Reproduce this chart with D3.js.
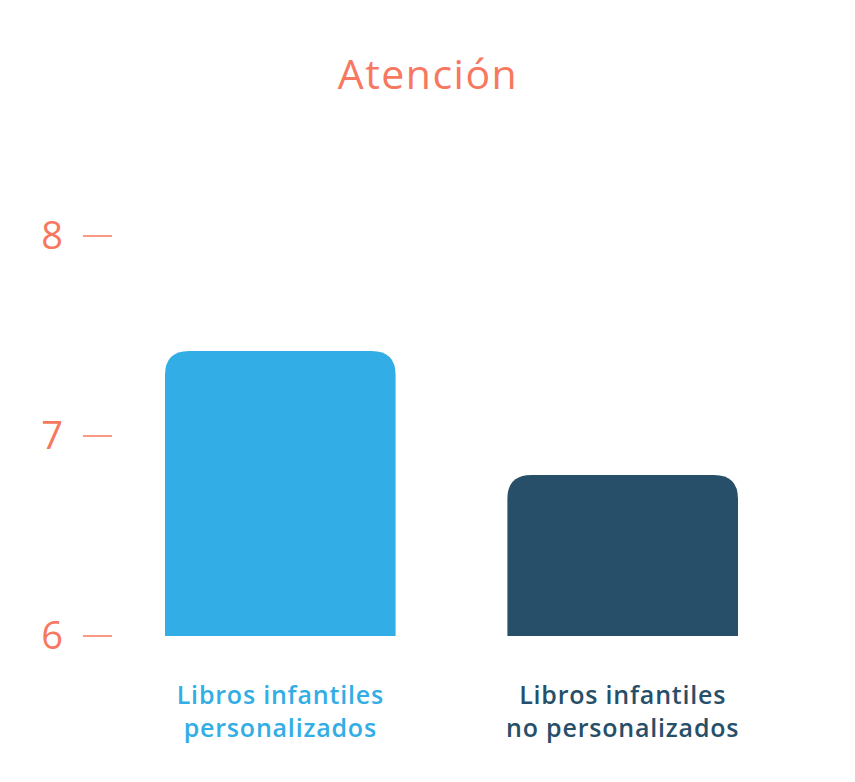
<!DOCTYPE html>
<html>
<head>
<meta charset="utf-8">
<script src="https://cdn.jsdelivr.net/npm/d3@7"></script>
<style>
body { margin: 0; background: #fff; }
text { font-family: "Open Sans", Lato, sans-serif; }
</style>
</head>
<body>
<div id="chart"></div>
<script>
const categories = ["Libros infantiles\npersonalizados", "Libros infantiles\nno personalizados"];
const values = [7.425, 6.805];
const barColors = ["#32ade5", "#274f69"];
const tickValues = [6, 7, 8];
const title = "Atención";

const width = 855, height = 782;
const svg = d3.select("#chart").append("svg")
    .attr("width", width)
    .attr("height", height);

const x = d3.scaleBand()
    .domain(categories)
    .range([165, 738])
    .paddingInner(0.3265)
    .paddingOuter(0);

const y = d3.scaleLinear()
    .domain([6, 8])
    .range([636, 236]);

const coral = "#f7785f";

svg.append("text")
    .attr("x", 428).attr("y", 89)
    .attr("text-anchor", "middle")
    .style("font-size", "41px")
    .style("font-weight", 500)
    .style("letter-spacing", "1.5px")
    .style("fill", coral)
    .text(title);

// y ticks
const ticks = svg.append("g").selectAll("g").data(tickValues).enter().append("g");
ticks.append("line")
    .attr("x1", 83).attr("x2", 112)
    .attr("y1", d => y(d)).attr("y2", d => y(d))
    .style("stroke", coral).style("stroke-width", 1.5);
ticks.append("text")
    .attr("x", 63).attr("y", d => y(d) + 13)
    .attr("text-anchor", "end")
    .style("font-size", "38px")
    .style("font-weight", 500)
    .style("fill", coral)
    .text(d => d);

// bars with rounded top corners
function topRounded(x0, y0, w, h, r) {
    return "M" + x0 + "," + (y0 + h) +
        "V" + (y0 + r) +
        "Q" + x0 + "," + y0 + " " + (x0 + r) + "," + y0 +
        "H" + (x0 + w - r) +
        "Q" + (x0 + w) + "," + y0 + " " + (x0 + w) + "," + (y0 + r) +
        "V" + (y0 + h) + "Z";
}

svg.selectAll(".bar")
    .data(categories)
    .enter().append("path")
    .attr("class", "bar")
    .attr("d", (d, i) => topRounded(x(d), y(values[i]), x.bandwidth(), y(6) - y(values[i]), 24))
    .style("fill", (d, i) => barColors[i]);

// category labels
const labels = svg.selectAll(".cat")
    .data(categories)
    .enter().append("text")
    .attr("class", "cat")
    .attr("x", d => x(d) + x.bandwidth() / 2)
    .attr("y", 704)
    .attr("text-anchor", "middle")
    .style("font-size", "25px")
    .style("font-weight", 600)
    .style("letter-spacing", "0.8px")
    .style("fill", (d, i) => barColors[i]);
labels.selectAll("tspan")
    .data(d => d.split("\n"))
    .enter().append("tspan")
    .attr("x", function () { return d3.select(this.parentNode).attr("x"); })
    .attr("dy", (d, i) => i === 0 ? 0 : 33)
    .text(d => d);
</script>
</body>
</html>
